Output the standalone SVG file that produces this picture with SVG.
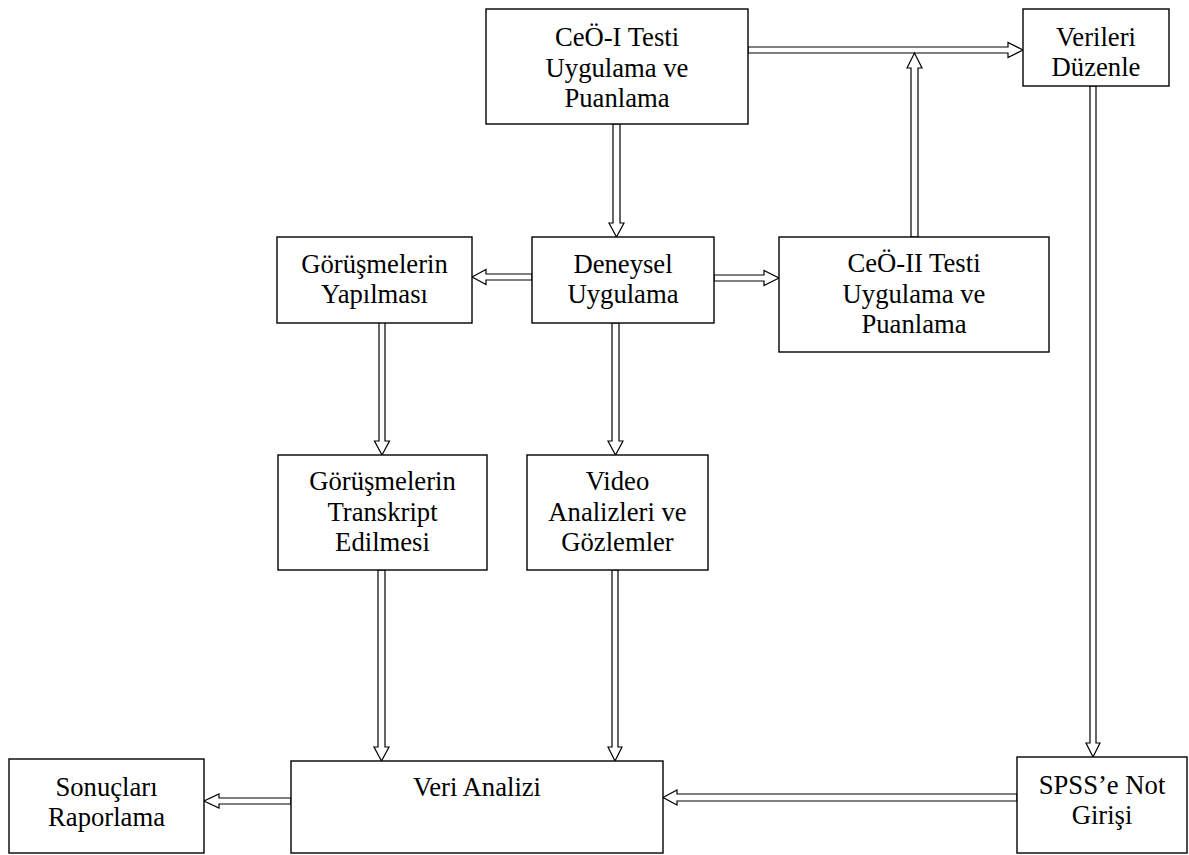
<svg xmlns="http://www.w3.org/2000/svg" width="1189" height="855" viewBox="0 0 1189 855">
<style>
.box{fill:#fff;stroke:#000;stroke-width:1.4}
.t{font-family:"Liberation Serif","Times New Roman",serif;font-size:26.67px;fill:#000;text-anchor:middle}
.arr{fill:#fff;stroke:#000;stroke-width:1.2;stroke-linejoin:miter}
</style>
<rect width="1189" height="855" fill="#fff"/>
<g id="connectors">
<path class="arr" d="M748,47 H1008 V42.5 L1023,50 L1008,57.5 V53 H748 Z"/>
<path class="arr" d="M911,237 V68 H907 L914.5,53 L922,68 H918 V237 Z"/>
<path class="arr" d="M613,124 V223 H609 L616.5,237 L624,223 H620 V124 Z"/>
<path class="arr" d="M532,274 H486 V269.5 L472,277 L486,284.5 V280 H532 Z"/>
<path class="arr" d="M714,275 H764 V270.5 L779,278 L764,285.5 V281 H714 Z"/>
<path class="arr" d="M379,320 V441 H374.5 L382,455 L389.5,441 H385 V320 Z"/>
<path class="arr" d="M612,323 V441 H608 L615.5,455 L623,441 H619 V323 Z"/>
<path class="arr" d="M378,570 V747 H374 L381.5,761 L389,747 H385 V570 Z"/>
<path class="arr" d="M612,570 V747 H608 L615,761 L622,747 H618 V570 Z"/>
<path class="arr" d="M1090,86 V743 H1086 L1093,757 L1100,743 H1096 V86 Z"/>
<path class="arr" d="M1017,794 H677 V790 L663,797.5 L677,805 V801 H1017 Z"/>
<path class="arr" d="M291,798 H219 V794 L204,801 L219,808 V804 H291 Z"/>
</g>
<g id="ceo1">
<rect class="box" x="486" y="9" width="262" height="115"/>
<text class="t" x="617" y="46">CeÖ-I Testi</text>
<text class="t" x="617" y="77">Uygulama ve</text>
<text class="t" x="617" y="107">Puanlama</text>
</g>
<g id="verileri">
<rect class="box" x="1023" y="9" width="146" height="77"/>
<text class="t" x="1096" y="46">Verileri</text>
<text class="t" x="1096" y="76">Düzenle</text>
</g>
<g id="gorusme">
<rect class="box" x="277" y="237" width="195" height="86"/>
<text class="t" x="374.5" y="273">Görüşmelerin</text>
<text class="t" x="374.5" y="303">Yapılması</text>
</g>
<g id="deneysel">
<rect class="box" x="532" y="237" width="182" height="86"/>
<text class="t" x="623" y="273">Deneysel</text>
<text class="t" x="623" y="303">Uygulama</text>
</g>
<g id="ceo2">
<rect class="box" x="779" y="237" width="270" height="115"/>
<text class="t" x="914" y="272">CeÖ-II Testi</text>
<text class="t" x="914" y="303">Uygulama ve</text>
<text class="t" x="914" y="333">Puanlama</text>
</g>
<g id="transkript">
<rect class="box" x="278" y="455" width="209" height="115"/>
<text class="t" x="382.5" y="490">Görüşmelerin</text>
<text class="t" x="382.5" y="521">Transkript</text>
<text class="t" x="382.5" y="551">Edilmesi</text>
</g>
<g id="video">
<rect class="box" x="527" y="455" width="181" height="115"/>
<text class="t" x="617.5" y="490">Video</text>
<text class="t" x="617.5" y="521">Analizleri ve</text>
<text class="t" x="617.5" y="551">Gözlemler</text>
</g>
<g id="sonuclar">
<rect class="box" x="9" y="759" width="195" height="94"/>
<text class="t" x="106.5" y="796">Sonuçları</text>
<text class="t" x="106.5" y="826">Raporlama</text>
</g>
<g id="analiz">
<rect class="box" x="291" y="761" width="372" height="92"/>
<text class="t" x="477" y="796">Veri Analizi</text>
</g>
<g id="spss">
<rect class="box" x="1017" y="757" width="170" height="96"/>
<text class="t" x="1102" y="794">SPSS’e Not</text>
<text class="t" x="1102" y="824">Girişi</text>
</g>
</svg>
